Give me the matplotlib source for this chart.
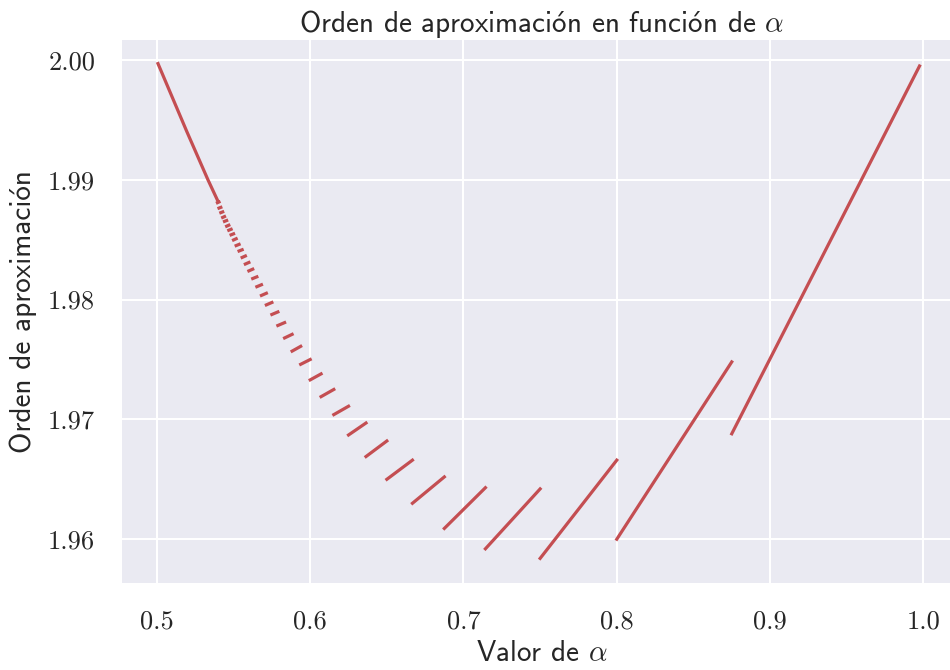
import os
import matplotlib
matplotlib.use("Agg")
import matplotlib.pyplot as plt
from matplotlib import font_manager

# --- data -------------------------------------------------------------------
# continuous head of the curve (alpha close to 0.5)
head_alpha = [0.5007, 0.5196, 0.5333, 0.5395]
head_order = [1.9997, 1.9940, 1.9900, 1.9883]

# separate pieces: start alpha, end alpha, start order, end order
seg_alpha0 = [0.5395, 0.5405, 0.5417, 0.5429, 0.5441, 0.5455, 0.5469, 0.5484,
              0.5500, 0.5517, 0.5536, 0.5556, 0.5577, 0.5600, 0.5625, 0.5652,
              0.5682, 0.5714, 0.5750, 0.5789, 0.5833, 0.5882, 0.5938, 0.6000,
              0.6071, 0.6154, 0.6250, 0.6364, 0.6500, 0.6667, 0.6875, 0.7143,
              0.7500, 0.8000, 0.8750]
seg_alpha1 = [0.5405, 0.5417, 0.5429, 0.5441, 0.5455, 0.5469, 0.5484, 0.5500,
              0.5517, 0.5536, 0.5556, 0.5577, 0.5600, 0.5625, 0.5652, 0.5682,
              0.5714, 0.5750, 0.5789, 0.5833, 0.5882, 0.5938, 0.6000, 0.6071,
              0.6154, 0.6250, 0.6364, 0.6500, 0.6667, 0.6875, 0.7143, 0.7500,
              0.8000, 0.8750, 0.9975]
seg_order0 = [1.98809, 1.98764, 1.98726, 1.98686, 1.98653, 1.98613, 1.98579,
              1.98541, 1.98498, 1.98451, 1.98406, 1.98352, 1.98297, 1.98240,
              1.98176, 1.98108, 1.98035, 1.97956, 1.97876, 1.97784, 1.9768,
              1.9757, 1.9746, 1.9733, 1.9719, 1.9704, 1.9687, 1.9669, 1.9650,
              1.9630, 1.9609, 1.9592, 1.9584, 1.9600, 1.9688]
seg_order1 = [1.98815, 1.98770, 1.98732, 1.98693, 1.98660, 1.98621, 1.98587,
              1.98549, 1.98508, 1.98461, 1.98416, 1.98364, 1.98310, 1.98254,
              1.98190, 1.98124, 1.98053, 1.97976, 1.97897, 1.97808, 1.9771,
              1.9761, 1.9750, 1.9738, 1.9725, 1.9711, 1.9697, 1.9682, 1.9666,
              1.9652, 1.9643, 1.9642, 1.9666, 1.9748, 1.9995]

xticks = [0.5, 0.6, 0.7, 0.8, 0.9, 1.0]
xtick_labels = ["0.5", "0.6", "0.7", "0.8", "0.9", "1.0"]
yticks = [1.96, 1.97, 1.98, 1.99, 2.00]
ytick_labels = ["1.96", "1.97", "1.98", "1.99", "2.00"]

title_text = "Orden de aproximación en función de $\\alpha$"
xlabel_text = "Valor de $\\alpha$"
ylabel_text = "Orden de aproximación"


# --- a Computer Modern Sans font with a real "ó" glyph -------------------------
def make_cmss_with_oacute():
    from fontTools.ttLib import TTFont
    from fontTools.ttLib.tables._g_l_y_f import Glyph, GlyphComponent
    src = os.path.join(matplotlib.get_data_path(), "fonts", "ttf", "cmss10.ttf")
    f = TTFont(src)
    cmap = f.getBestCmap()
    order = f.getGlyphOrder()
    o_name = cmap[ord("o")]
    acute_name = None
    for cand in ("acute", "acutecmb", "acute.cap"):
        if cand in order:
            acute_name = cand
            break
    if acute_name is None:
        acute_name = cmap.get(0xB6)
    glyf = f["glyf"]
    hmtx = f["hmtx"]
    adv_o, lsb_o = hmtx[o_name]
    adv_a, lsb_a = hmtx[acute_name]
    new = "oacute_cm"
    g = Glyph()
    g.numberOfContours = -1
    c1 = GlyphComponent()
    c1.glyphName = o_name
    c1.x, c1.y = 0, 0
    c1.flags = 0x4
    c2 = GlyphComponent()
    c2.glyphName = acute_name
    c2.x = int(round((adv_o - adv_a) / 2.0))
    c2.y = 0
    c2.flags = 0x4
    g.components = [c1, c2]
    f.setGlyphOrder(order + [new])
    glyf.glyphOrder = order + [new]
    glyf[new] = g
    g.recalcBounds(glyf)
    hmtx[new] = (adv_o, g.xMin)
    for t in f["cmap"].tables:
        t.cmap[0xF3] = new
    if "post" in f and f["post"].formatType == 2.0:
        f["post"].formatType = 3.0
    for rec in f["name"].names:
        if rec.nameID in (1, 4, 6, 16):
            rec.string = "CMSSAcc"
    out = os.path.abspath("cmss_acc.ttf")
    f.save(out)
    font_manager.fontManager.addfont(out)
    return font_manager.FontProperties(fname=out).get_name()


try:
    sans_name = make_cmss_with_oacute()
    sans = [sans_name, "DejaVu Sans"]
except Exception:
    sans = ["Lato", "DejaVu Sans"]

# --- style --------------------------------------------------------------------
plt.rcParams["mathtext.fontset"] = "cm"
plt.rcParams["axes.unicode_minus"] = False
line_color = "#C44E52"
bg = "#EAEAF2"
txt = "#262626"

fig = plt.figure(figsize=(9.5, 6.7), dpi=100)
ax = fig.add_axes([0.1287, 0.1303, 0.8828, 0.8100])
ax.set_facecolor(bg)
for s in ax.spines.values():
    s.set_visible(False)

ax.plot(head_alpha, head_order, color=line_color, lw=2.3)
for a0, a1, o0, o1 in zip(seg_alpha0, seg_alpha1, seg_order0, seg_order1):
    ax.plot([a0, a1], [o0, o1], color=line_color, lw=2.3)

ax.set_xlim(0.4774, 1.0245)
ax.set_ylim(1.95637, 2.00167)
ax.set_xticks(xticks)
ax.set_xticklabels(xtick_labels, fontfamily="cmr10", fontsize=19, color=txt)
ax.set_yticks(yticks)
ax.set_yticklabels(ytick_labels, fontfamily="cmr10", fontsize=19, color=txt)
ax.tick_params(length=0, pad=19.5)
ax.grid(True, color="white", lw=1.5)
ax.set_axisbelow(True)

ax.set_title(title_text, fontfamily=sans, fontsize=21, color=txt, pad=5)
ax.set_xlabel(xlabel_text, fontfamily=sans, fontsize=21, color=txt, labelpad=5)
ax.set_ylabel(ylabel_text, fontfamily=sans, fontsize=21, color=txt, labelpad=8)

fig.savefig("out.png", dpi=100)
